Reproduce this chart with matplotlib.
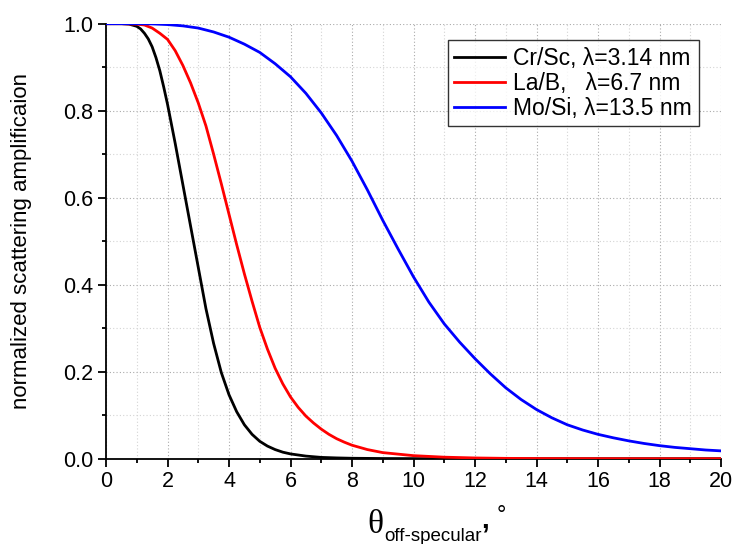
import matplotlib
matplotlib.use('Agg')
import matplotlib.pyplot as plt
from matplotlib.ticker import MultipleLocator

plt.rcParams['font.family'] = ['Liberation Sans', 'DejaVu Sans']

# values
cr_sc_x = [0, 0.25, 0.5, 0.75, 1.0, 1.125, 1.25, 1.375, 1.5, 1.625, 1.75, 1.875, 2.0, 2.25, 2.5, 2.75,
           3.0, 3.25, 3.5, 3.75, 4.0, 4.25, 4.5, 4.75, 5.0, 5.25, 5.5, 5.75, 6.0, 6.5, 7.0, 7.5, 8.0,
           9.0, 10, 12, 14, 16, 18, 20]
cr_sc_y = [1.0, 1.0, 1.0, 0.999, 0.994, 0.988, 0.978, 0.965, 0.947, 0.922, 0.892, 0.855, 0.815, 0.725, 0.63, 0.535,
           0.44, 0.345, 0.265, 0.198, 0.147, 0.108, 0.078, 0.056, 0.04, 0.029, 0.021, 0.015, 0.011, 0.006, 0.003,
           0.0018, 0.001, 0.0004, 0.0002, 0, 0, 0, 0, 0]

la_b_x = [0, 0.5, 1.0, 1.25, 1.5, 1.75, 2.0, 2.25, 2.5, 2.75, 3.0, 3.25, 3.5, 3.75, 4.0, 4.25, 4.5,
          4.75, 5.0, 5.25, 5.5, 5.75, 6.0, 6.25, 6.5, 6.75, 7.0, 7.25, 7.5, 7.75, 8.0, 8.5, 9.0, 10,
          11, 12, 13, 14, 16, 18, 20]
la_b_y = [1.0, 1.0, 0.999, 0.997, 0.99, 0.978, 0.964, 0.938, 0.904, 0.864, 0.818, 0.765, 0.70, 0.632, 0.562, 0.492,
          0.425, 0.362, 0.302, 0.252, 0.208, 0.172, 0.142, 0.118, 0.098, 0.082, 0.068, 0.056, 0.046, 0.038,
          0.031, 0.021, 0.014, 0.007, 0.0035, 0.0017, 0.0008, 0.0004, 0.0001, 0, 0]

mo_si_x = [0, 1, 1.5, 2, 2.5, 3, 3.5, 4, 4.5, 5, 5.5, 6, 6.5, 7, 7.5, 8, 8.5, 9, 9.5, 10, 10.5, 11,
           11.5, 12, 12.5, 13, 13.5, 14, 14.5, 15, 15.5, 16, 16.5, 17, 17.5, 18, 18.5, 19, 19.5, 20]
mo_si_y = [1.0, 1.0, 0.9995, 0.998, 0.995, 0.99, 0.981, 0.969, 0.953, 0.934, 0.908, 0.878, 0.84, 0.795, 0.743,
           0.684, 0.618, 0.548, 0.482, 0.418, 0.36, 0.31, 0.268, 0.23, 0.195, 0.163, 0.136, 0.113, 0.094, 0.078,
           0.066, 0.056, 0.048, 0.041, 0.035, 0.03, 0.026, 0.023, 0.02, 0.018]

labels = ['Cr/Sc, λ=3.14 nm', 'La/B,   λ=6.7 nm', 'Mo/Si, λ=13.5 nm']
colors = ['#000000', '#ff0000', '#0000ff']

fig = plt.figure(figsize=(7.35, 5.44), dpi=100)
ax = fig.add_axes([106 / 735, 1 - 458.7 / 544, 615 / 735, 435 / 544])

ax.plot(cr_sc_x, cr_sc_y, color=colors[0], lw=2.0, label=labels[0], zorder=3)
ax.plot(la_b_x, la_b_y, color=colors[1], lw=2.0, label=labels[1], zorder=3)
ax.plot(mo_si_x, mo_si_y, color=colors[2], lw=2.0, label=labels[2], zorder=3)

ax.set_xlim(0, 20)
ax.set_ylim(0, 1.0)
ax.xaxis.set_major_locator(MultipleLocator(2))
ax.xaxis.set_minor_locator(MultipleLocator(1))
ax.yaxis.set_major_locator(MultipleLocator(0.2))
ax.yaxis.set_minor_locator(MultipleLocator(0.1))

ax.grid(which='major', color='#aaaaaa', linestyle=(0, (1, 2)), lw=0.8)
ax.grid(which='minor', color='#d4d4d4', linestyle=(0, (1, 2)), lw=0.8)
ax.set_axisbelow(True)

for s in ['top', 'right']:
    ax.spines[s].set_visible(False)
for s in ['left', 'bottom']:
    ax.spines[s].set_linewidth(1.3)

ax.tick_params(which='major', direction='out', length=6, width=1.3, labelsize=15.5, pad=3)
ax.tick_params(which='minor', direction='out', length=3, width=1.3)

fig.text(22 / 735, 1 - 241 / 544, 'normalized scattering amplificaion', rotation=90,
         ha='center', va='center', fontsize=16)

# x label: theta with a subscript, comma and degree sign
fig.text(367 / 735, 1 - 533 / 544, 'θ', family='Liberation Serif', fontsize=24, ha='left', va='baseline')
fig.text(384 / 735, 1 - 541 / 544, 'off-specular', fontsize=13.5, ha='left', va='baseline')
fig.text(481 / 735, 1 - 528 / 544, ',', fontsize=20, fontweight='bold', ha='left', va='baseline')
fig.text(497 / 735, 1 - 522 / 544, '°', fontsize=17, ha='left', va='baseline')

leg = ax.legend(loc='upper right', bbox_to_anchor=(699 / 735, 1 - 40 / 544), bbox_transform=fig.transFigure,
                fontsize=16.5, frameon=True, fancybox=False, handlelength=2.2, handletextpad=0.37,
                borderpad=0.3, labelspacing=0.08, borderaxespad=0)
leg.get_frame().set_edgecolor('#000000')
leg.get_frame().set_linewidth(1.0)

fig.savefig('out.png', dpi=100)
